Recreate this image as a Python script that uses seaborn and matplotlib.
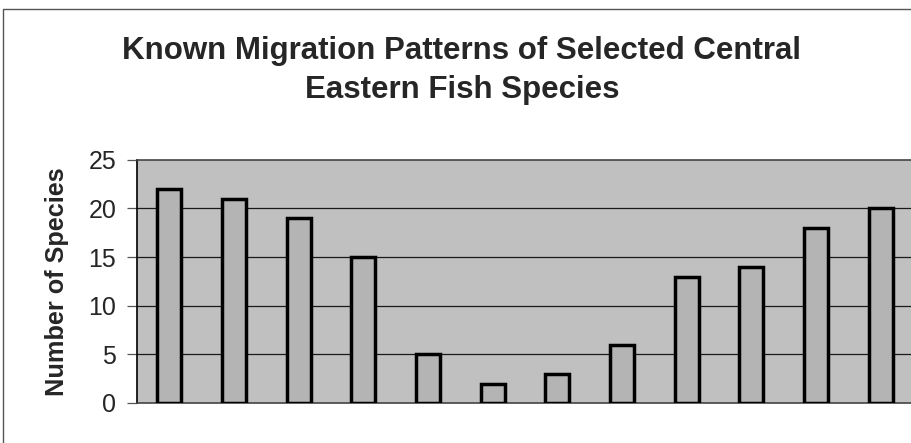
import matplotlib
matplotlib.use("Agg")
import matplotlib.pyplot as plt
import seaborn as sns
import pandas as pd
from matplotlib.lines import Line2D

months = ["Jan", "Feb", "Mar", "Apr", "May", "Jun",
          "Jul", "Aug", "Sep", "Oct", "Nov", "Dec"]
species = [22, 21, 19, 15, 5, 2, 3, 6, 13, 14, 18, 20]
yticks = [0, 5, 10, 15, 20, 25]

title_lines = ["Known Migration Patterns of Selected Central",
               "Eastern Fish Species"]
ylabel = "Number of Species"

sns.set_style("white")
plt.rcParams["font.family"] = ["Liberation Sans", "DejaVu Sans"]

df = pd.DataFrame({"Month": months, "Species": species})

fig = plt.figure(figsize=(9.12, 4.43), dpi=100)
ax = fig.add_axes([0.1502, 0.0903, 0.851, 0.549])
ax.set_facecolor("#c0c0c0")

sns.barplot(data=df, x="Month", y="Species", color="#b4b4b4",
            saturation=1, edgecolor="black", linewidth=2.5,
            width=0.37, ax=ax, zorder=3)

ax.set_xlim(-0.5, 11.5)
ax.set_ylim(0, 25)
ax.set_yticks(yticks)
ax.set_yticklabels([str(t) for t in yticks], fontsize=18)
ax.tick_params(axis="y", direction="out", length=7, width=0.9,
               color="#555555", pad=8, left=True)
ax.tick_params(axis="x", bottom=False, labelbottom=False)
ax.set_xlabel("")
ax.set_ylabel(ylabel, fontsize=18.2, fontweight="bold", labelpad=14)

for y in [5, 10, 15, 20]:
    ax.axhline(y, color="#1a1a1a", lw=0.9, zorder=1)

ax.spines["left"].set_color("black")
ax.spines["left"].set_linewidth(1.2)
ax.spines["top"].set_color("#444444")
ax.spines["top"].set_linestyle((0, (1, 1)))
ax.spines["top"].set_linewidth(1.2)
ax.spines["bottom"].set_color("#444444")
ax.spines["bottom"].set_linewidth(1.2)
ax.spines["right"].set_visible(False)

for line, ypx in zip(title_lines, [51, 90]):
    fig.text(462 / 912, 1 - ypx / 443, line, ha="center", va="center",
             fontsize=22.5, fontweight="bold")

# outer chart border (top and left visible, rest cropped)
fig.add_artist(Line2D([3 / 912, 3 / 912, 1.0], [0.0, 1 - 9 / 443, 1 - 9 / 443],
                      transform=fig.transFigure, color="#555555", lw=1.0))

fig.savefig("out.png", dpi=100)
